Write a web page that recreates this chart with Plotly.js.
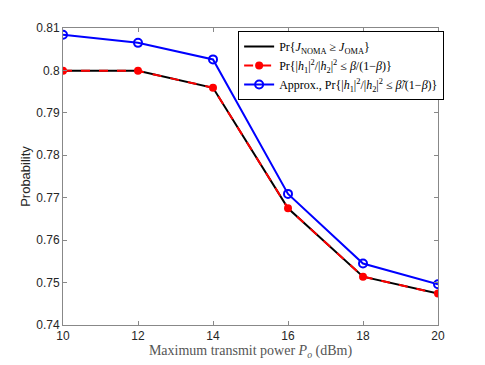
<!DOCTYPE html>
<html>
<head>
<meta charset="utf-8">
<script src="https://cdn.plot.ly/plotly-3.0.1.min.js"></script>
<style>
  body { margin: 0; background: #fff; }
  #plot { width: 485px; height: 365px; }
</style>
</head>
<body>
<div id="plot"></div>
<script>
// transmit power (dBm)
const power = [10, 12, 14, 16, 18, 20];
// Pr{J_NOMA >= J_OMA}, simulated
const probSim = [0.7999, 0.7999, 0.7959, 0.7675, 0.7514, 0.7474];
// Pr{|h1|^2/|h2|^2 <= beta/(1-beta)}
const probExact = [0.7999, 0.7999, 0.7959, 0.7675, 0.7514, 0.7474];
// approximation with beta tilde
const probApprox = [0.8084, 0.8065, 0.8026, 0.7709, 0.7545, 0.7496];

const yTicks = [0.74, 0.75, 0.76, 0.77, 0.78, 0.79, 0.8, 0.81];
const yTickText = ['0.74', '0.75', '0.76', '0.77', '0.78', '0.79', '0.8', '0.81'];

const serif = 'Liberation Serif, DejaVu Serif, serif';
const sans = 'Liberation Sans, Arial, sans-serif';

const traces = [
  {
    x: power, y: probSim, type: 'scatter', mode: 'lines',
    line: { color: '#000000', width: 2 },
    name: 'Pr{<i>J</i><sub>NOMA</sub> ≥ <i>J</i><sub>OMA</sub>}'
  },
  {
    x: power, y: probExact, type: 'scatter', mode: 'lines+markers',
    line: { color: '#ff0000', width: 2, dash: 'dash' },
    marker: { color: '#ff0000', size: 8, symbol: 'circle' },
    name: 'Pr{|<i>h</i><sub>1</sub>|<sup>2</sup>/|<i>h</i><sub>2</sub>|<sup>2</sup> ≤ <i>β</i>/(1−<i>β</i>)}'
  },
  {
    x: power, y: probApprox, type: 'scatter', mode: 'lines+markers',
    line: { color: '#0000ff', width: 2 },
    marker: { color: '#0000ff', size: 8, symbol: 'circle-open', line: { color: '#0000ff', width: 2 } },
    name: 'Approx., Pr{|<i>h</i><sub>1</sub>|<sup>2</sup>/|<i>h</i><sub>2</sub>|<sup>2</sup> ≤ <i>β̃</i>/(1−<i>β</i>)}'
  }
];

const layout = {
  width: 485,
  height: 365,
  margin: { l: 63, r: 47, t: 28, b: 40 },
  paper_bgcolor: '#ffffff',
  plot_bgcolor: '#ffffff',
  showlegend: true,
  legend: {
    x: 0.467, y: 0.99, xanchor: 'left', yanchor: 'top',
    bgcolor: '#ffffff', bordercolor: '#000000', borderwidth: 1,
    font: { family: serif, size: 12, color: '#000000' },
    itemwidth: 30,
    tracegroupgap: 0
  },
  xaxis: {
    range: [10, 20],
    tickvals: power,
    ticktext: power.map(String),
    ticks: 'inside', ticklen: 4, tickcolor: '#888888',
    showline: true, linecolor: '#888888', linewidth: 1, mirror: 'ticks',
    showgrid: false, zeroline: false,
    tickfont: { family: sans, size: 12, color: '#262626' },
    title: {
      text: 'Maximum transmit power <i>P<sub>o</sub></i> (dBm)',
      font: { family: serif, size: 14, color: '#555555' },
      standoff: 2
    }
  },
  yaxis: {
    range: [0.74, 0.81],
    tickvals: yTicks,
    ticktext: yTickText,
    ticks: 'inside', ticklen: 4, tickcolor: '#888888',
    showline: true, linecolor: '#888888', linewidth: 1, mirror: 'ticks',
    showgrid: false, zeroline: false,
    tickfont: { family: sans, size: 12, color: '#262626' },
    title: {
      text: 'Probability',
      font: { family: sans, size: 13, color: '#262626' },
      standoff: 2
    }
  }
};

Plotly.newPlot('plot', traces, layout, { displayModeBar: false, staticPlot: true });
</script>
</body>
</html>
